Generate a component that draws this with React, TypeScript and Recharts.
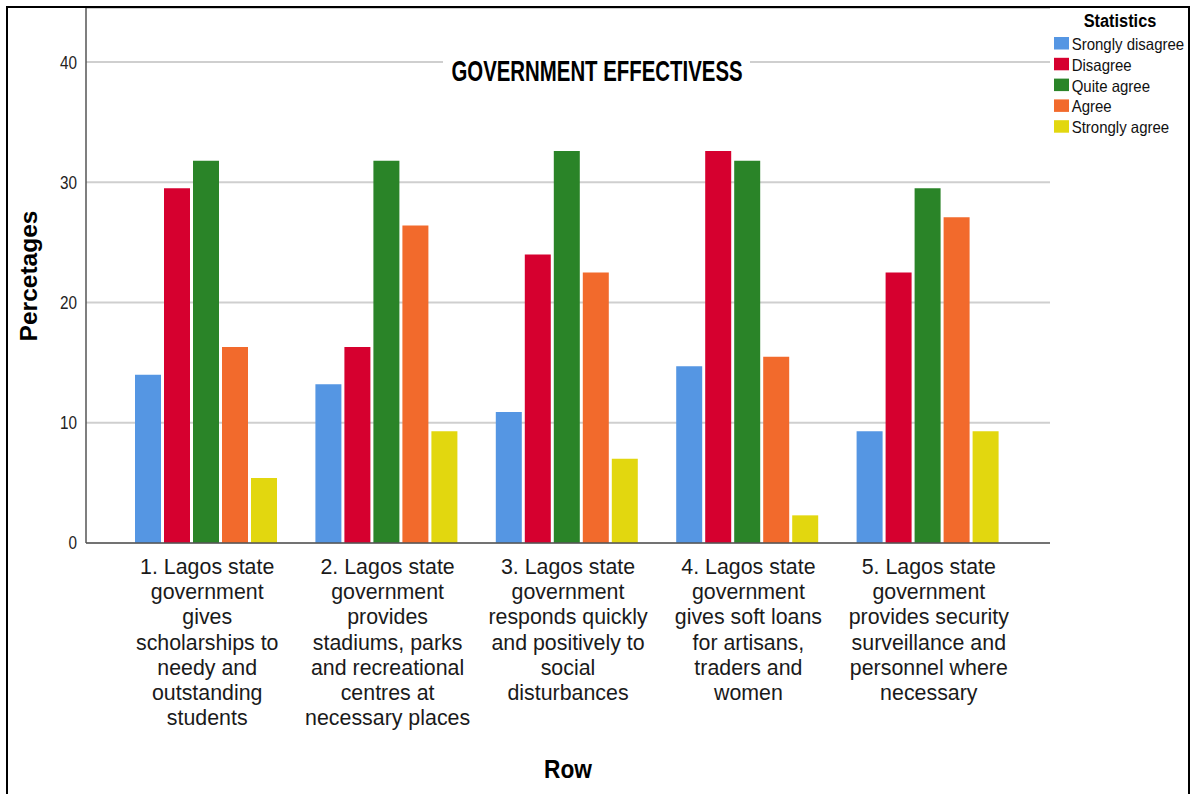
import React from "react";
import { BarChart, Bar, XAxis, YAxis, CartesianGrid } from "recharts";

const FONT = "'Liberation Sans', Arial, sans-serif";

const categories = ["1", "2", "3", "4", "5"];
const categoryLabelLines = [
  ["1. Lagos state", "government", "gives", "scholarships to", "needy and", "outstanding", "students"],
  ["2. Lagos state", "government", "provides", "stadiums, parks", "and recreational", "centres at", "necessary places"],
  ["3. Lagos state", "government", "responds quickly", "and positively to", "social", "disturbances"],
  ["4. Lagos state", "government", "gives soft loans", "for artisans,", "traders and", "women"],
  ["5. Lagos state", "government", "provides security", "surveillance and", "personnel where", "necessary"],
];

const seriesNames = ["Srongly disagree", "Disagree", "Quite agree", "Agree", "Strongly agree"];
const stronglyDisagree = [14.0, 13.2, 10.9, 14.7, 9.3];
const disagree = [29.5, 16.3, 24.0, 32.6, 22.5];
const quiteAgree = [31.8, 31.8, 32.6, 31.8, 29.5];
const agree = [16.3, 26.4, 22.5, 15.5, 27.1];
const stronglyAgree = [5.4, 9.3, 7.0, 2.3, 9.3];

const yTicks = [0, 10, 20, 30, 40];
const chartTitle = "GOVERNMENT EFFECTIVESS";
const legendTitle = "Statistics";
const yAxisTitle = "Percetages";
const xAxisTitle = "Row";

const seriesKeys = ["sd", "d", "qa", "a", "sa"];
const seriesColors = ["#5596e3", "#d6002f", "#2a8428", "#f26a2c", "#e2d70f"];
const seriesValues = [stronglyDisagree, disagree, quiteAgree, agree, stronglyAgree];

const data = categories.map((name, i) => {
  const row: Record<string, any> = { name };
  seriesKeys.forEach((k, s) => {
    row[k] = seriesValues[s][i];
  });
  return row;
});

const XTick = (props: any) => {
  const { x, y, payload } = props;
  const idx = categories.indexOf(String(payload.value));
  const lines = categoryLabelLines[idx] || [];
  return (
    <g transform={`translate(${x},${y + 23})`}>
      <g transform="scale(0.95,1)">
        <text textAnchor="middle" fontSize={22.5} fill="#1a1a1a" fontFamily={FONT}>
          {lines.map((l, i) => (
            <tspan key={i} x={0} y={i * 25.2}>
              {l}
            </tspan>
          ))}
        </text>
      </g>
    </g>
  );
};

const YTick = (props: any) => {
  const { x, y, payload } = props;
  return (
    <g transform={`translate(${x - 1},${y})`}>
      <g transform="scale(0.85,1)">
        <text textAnchor="end" dy="0.36em" fontSize={18} fill="#222" fontFamily={FONT}>
          {payload.value}
        </text>
      </g>
    </g>
  );
};

export default function App() {
  const W = 1180;
  const H = 786;
  return (
    <div style={{ position: "relative", width: 1192, height: 794, background: "#fff", overflow: "hidden" }}>
      <style>{"html,body{margin:0;padding:0;overflow:hidden;background:#fff}"}</style>
      <div style={{ position: "absolute", left: 6, top: 6, width: 1184, height: 2, background: "#000" }} />
      <div style={{ position: "absolute", left: 6, top: 6, width: 2, height: 788, background: "#000" }} />
      <div style={{ position: "absolute", left: 1188, top: 6, width: 2, height: 788, background: "#000" }} />
      <div style={{ position: "absolute", left: 8, top: 8, width: W, height: H }}>
        <BarChart
          width={W}
          height={H}
          data={data}
          margin={{ top: 0, right: 138, bottom: 0, left: 0 }}
          barCategoryGap={18}
          barGap={3}
        >
          <CartesianGrid vertical={false} stroke="#cfcfcf" strokeWidth={2} />
          <XAxis
            dataKey="name"
            height={251}
            interval={0}
            padding={{ left: 31, right: 31 }}
            tickLine={false}
            axisLine={{ stroke: "#555", strokeWidth: 1.5 }}
            tick={<XTick />}
          />
          <YAxis
            width={78}
            domain={[0, 44.5]}
            ticks={yTicks}
            interval={0}
            tickLine={false}
            axisLine={{ stroke: "#555", strokeWidth: 1.5 }}
            tick={<YTick />}
          />
          {seriesKeys.map((k, s) => (
            <Bar key={k} dataKey={k} name={seriesNames[s]} fill={seriesColors[s]} isAnimationActive={false} />
          ))}
        </BarChart>
        <svg
          width={W}
          height={H}
          style={{ position: "absolute", left: 0, top: 0, pointerEvents: "none" }}
        >
          <rect x={435} y={42} width={307} height={36} fill="#fff" />
          <g transform={`translate(${589},${73})`}>
            <g transform="scale(0.68,1)">
              <text textAnchor="middle" fontSize={30} fontWeight="bold" fill="#000" fontFamily={FONT}>
                {chartTitle}
              </text>
            </g>
          </g>
          <text
            transform={`translate(${29.3},${268}) rotate(-90)`}
            textAnchor="middle"
            fontSize={24.5}
            fontWeight="bold"
            fill="#000"
            fontFamily={FONT}
          >
            {yAxisTitle}
          </text>
          <g transform={`translate(${560},${770})`}>
            <g transform="scale(0.89,1)">
              <text textAnchor="middle" fontSize={25.5} fontWeight="bold" fill="#000" fontFamily={FONT}>
                {xAxisTitle}
              </text>
            </g>
          </g>
          <g transform={`translate(${1112},${19})`}>
            <g transform="scale(0.88,1)">
              <text textAnchor="middle" fontSize={18.6} fontWeight="bold" fill="#000" fontFamily={FONT}>
                {legendTitle}
              </text>
            </g>
          </g>
          {seriesNames.map((n, s) => {
            const base = 42 + s * 20.8;
            return (
              <g key={n}>
                <rect x={1046} y={base - 13} width={15} height={12.5} fill={seriesColors[s]} />
                <g transform={`translate(${1063.7},${base})`}>
                  <g transform="scale(0.92,1)">
                    <text fontSize={16.3} fill="#111" fontFamily={FONT}>
                      {n}
                    </text>
                  </g>
                </g>
              </g>
            );
          })}
        </svg>
      </div>
    </div>
  );
}
